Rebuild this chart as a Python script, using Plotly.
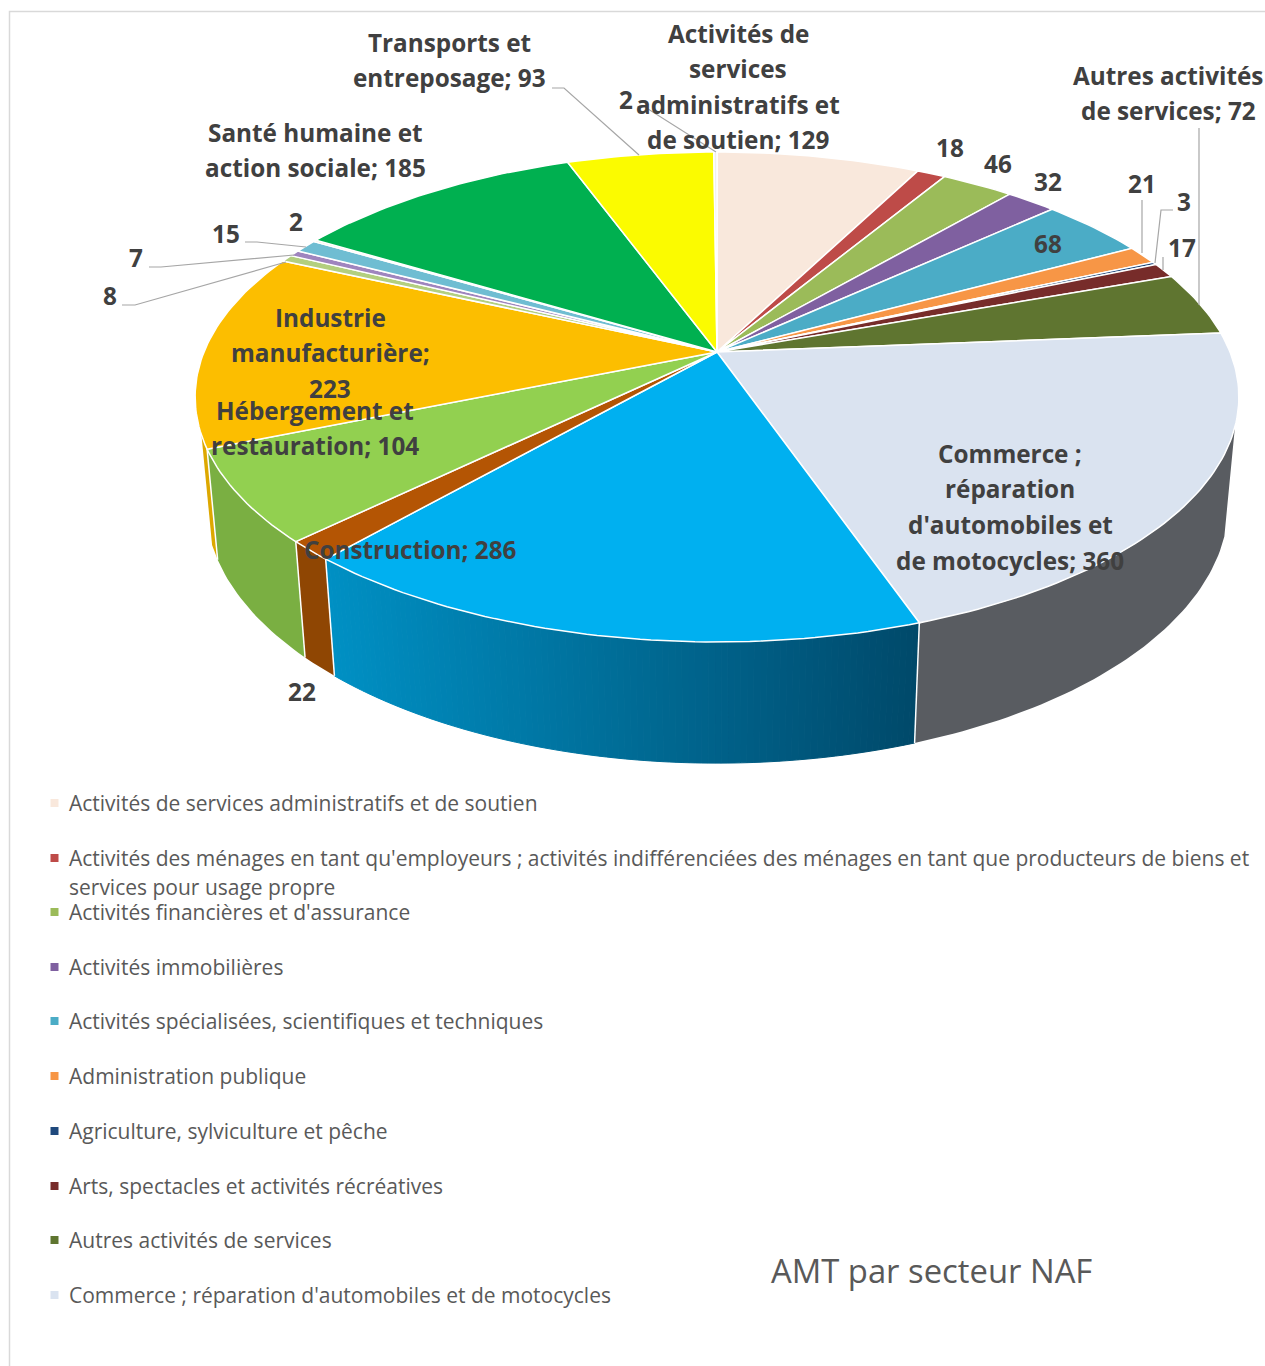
import math
import plotly.graph_objects as go

# ---------- data ----------
sectors = [
    "Activités de services administratifs et de soutien",
    "Activités des ménages en tant qu'employeurs ; activités indifférenciées des ménages en tant que producteurs de biens et services pour usage propre",
    "Activités financières et d'assurance",
    "Activités immobilières",
    "Activités spécialisées, scientifiques et techniques",
    "Administration publique",
    "Agriculture, sylviculture et pêche",
    "Arts, spectacles et activités récréatives",
    "Autres activités de services",
    "Commerce ; réparation d'automobiles et de motocycles",
    "Construction",
    "Enseignement",
    "Hébergement et restauration",
    "Industrie manufacturière",
    "Industries extractives",
    "Information et communication",
    "Production et distribution d'eau",
    "Production et distribution d'électricité",
    "Santé humaine et action sociale",
    "Transports et entreposage",
    "Non renseigné",
]
values = [129, 18, 46, 32, 68, 21, 3, 17, 72, 360, 286, 22, 104, 223, 8, 7, 15, 2, 185, 93, 2]
top_colors = ["#F9E8DC", "#BE4B48", "#9BBB59", "#7F60A0", "#4BACC6", "#F79646", "#1F497D",
              "#772C2A", "#5F7530", "#DAE3F0", "#00B0F0", "#B45504", "#92D050", "#FCBE00",
              "#B3CF7F", "#9F85BE", "#6FBDD2", "#FAC090", "#00B050", "#FBFB00", "#EFEFEF"]
side_colors = {9: ("#595C61", "#595C61"), 10: ("#00496A", "#0090C4"), 11: ("#8F4603", "#8F4603"),
               12: ("#7AAF42", "#7AAF42"), 13: ("#DDA800", "#DDA800")}
legend_count = 10
title_text = "AMT par secteur NAF"

# ---------- perspective of the pie (pixels) ----------
W, H = 1265, 1366
CX, CY = 717, 352
A, B, K = 513.0, 236.7, 0.1837
M, N = 0.0197, -107.0
WALL_FROM = math.acos(-0.30)
WALL_TO = 2 * math.pi - math.acos(-0.33)


def top(t):
    x, y = math.sin(t), math.cos(t)
    w = 1 + K * y
    return CX + A * x / w, CY - B * y / w


def bottom(t):
    x, y = math.sin(t), math.cos(t)
    w = 1 + K * y + M
    return CX + A * x / w, CY - (B * y + N) / w


def mix(c1, c2, f):
    a = [int(c1[i:i + 2], 16) for i in (1, 3, 5)]
    b = [int(c2[i:i + 2], 16) for i in (1, 3, 5)]
    return "rgb(%d,%d,%d)" % tuple(round(p + (q - p) * f) for p, q in zip(a, b))


total = sum(values)
edges = [0.0]
for v in values:
    edges.append(edges[-1] + v / total * 2 * math.pi)

fig = go.Figure()


def poly(xs, ys, fill, line="rgba(0,0,0,0)", lw=0, name=None):
    fig.add_trace(go.Scatter(x=xs, y=ys, mode="lines", fill="toself", fillcolor=fill,
                             line=dict(color=line, width=lw), hoverinfo="text" if name else "skip",
                             text=name, showlegend=False))


def wall(a0, a1, col, lw=0.0):
    n = max(2, int((a1 - a0) / math.radians(1)))
    angs = [a0 + (a1 - a0) * j / n for j in range(n + 1)]
    p = [top(a) for a in angs] + [bottom(a) for a in reversed(angs)]
    p.append(p[0])
    poly([q[0] for q in p], [q[1] for q in p], col, col, lw)


# side wall
x_min, x_max = bottom(edges[11])[0], bottom(edges[10])[0]
for i, (t0, t1) in enumerate(zip(edges[:-1], edges[1:])):
    if i not in side_colors:
        continue
    t0, t1 = max(t0, WALL_FROM), min(t1, WALL_TO)
    c0, c1 = side_colors[i]
    if c0 == c1:
        wall(t0, t1, c0)
    else:
        n = int((t1 - t0) / math.radians(0.6))
        for j in range(n):
            a0 = t0 + (t1 - t0) * j / n
            a1 = t0 + (t1 - t0) * (j + 1) / n
            f = min(1, max(0, (bottom((a0 + a1) / 2)[0] - x_min) / (x_max - x_min)))
            wall(a0, a1, mix(c1, c0, f), 1.0)

# white edges between visible side faces
for e in edges:
    if WALL_FROM < e < WALL_TO:
        p, q = top(e), bottom(e)
        fig.add_trace(go.Scatter(x=[p[0], q[0]], y=[p[1], q[1]], mode="lines",
                                 line=dict(color="#FFFFFF", width=1.5),
                                 hoverinfo="skip", showlegend=False))

# top face
for i, (t0, t1) in enumerate(zip(edges[:-1], edges[1:])):
    n = max(2, int((t1 - t0) / math.radians(1)))
    pts = [(CX, CY)] + [top(t0 + (t1 - t0) * j / n) for j in range(n + 1)] + [(CX, CY)]
    poly([q[0] for q in pts], [q[1] for q in pts], top_colors[i], "#FFFFFF", 1.5,
         "%s; %d" % (sectors[i], values[i]))

# leader lines
leaders = [
    [(552, 88), (564, 88), (639, 155)],
    [(637, 107), (645, 107), (716, 152)],
    [(245, 242), (257, 242), (306, 247)],
    [(149, 267), (161, 267), (294, 255)],
    [(122, 305), (135, 305), (286, 262)],
    [(1142, 200), (1142, 253)],
    [(1173, 210), (1161, 210), (1155, 263)],
    [(1163, 257), (1163, 270)],
    [(1199, 128), (1199, 305)],
]
for ld in leaders:
    fig.add_trace(go.Scatter(x=[p[0] for p in ld], y=[p[1] for p in ld], mode="lines",
                             line=dict(color="#A6A6A6", width=1.2),
                             hoverinfo="skip", showlegend=False))

annotations = []
LABEL_FONT = dict(family="Open Sans", size=24.3, color="#404040", weight=700)


def add_text(x, y, s, font, anchor="center"):
    annotations.append(dict(x=x, y=y, xref="x", yref="y", text=s, showarrow=False, font=font,
                            xanchor=anchor, yanchor="middle", align=anchor))


v = values
labels = [
    (["Activités de", "services", "administratifs et", f"de soutien; {v[0]}"], 738, [33, 68, 104, 139]),
    (["Transports et", f"entreposage; {v[19]}"], 449, [42, 77]),
    (["Santé humaine et", f"action sociale; {v[18]}"], 315, [132, 167]),
    (["Autres activités", f"de services; {v[8]}"], 1168, [75, 110]),
    (["Industrie", "manufacturière;", f"{v[13]}"], 330, [317, 352, 388]),
    (["Hébergement et", f"restauration; {v[12]}"], 315, [410, 445]),
    ([f"Construction; {v[10]}"], 410, [549]),
    (["Commerce ;", "réparation", "d'automobiles et", f"de motocycles; {v[9]}"], 1010, [453, 488, 524, 560]),
    ([f"{v[1]}"], 950, [147]),
    ([f"{v[2]}"], 998, [163]),
    ([f"{v[3]}"], 1048, [181]),
    ([f"{v[4]}"], 1048, [243]),
    ([f"{v[5]}"], 1142, [183]),
    ([f"{v[6]}"], 1184, [201]),
    ([f"{v[7]}"], 1182, [247]),
    ([f"{v[11]}"], 302, [691]),
    ([f"{v[17]}"], 296, [221]),
    ([f"{v[16]}"], 226, [233]),
    ([f"{v[15]}"], 136, [257]),
    ([f"{v[14]}"], 110, [295]),
    ([f"{v[20]}"], 626, [99]),
]
for lines, cx, ys in labels:
    for s, y in zip(lines, ys):
        add_text(cx, y, s, LABEL_FONT)

# legend
LEG_FONT = dict(family="Open Sans", size=21, color="#595959")
leg_y = [803, 858, 912, 967, 1021, 1076, 1131, 1186, 1240, 1295]
fig.add_trace(go.Scatter(x=[54.5] * legend_count, y=leg_y, mode="markers",
                         marker=dict(symbol="square", size=8, color=top_colors[:legend_count], line=dict(width=0)),
                         hoverinfo="skip", showlegend=False))
for i, y in enumerate(leg_y):
    name = sectors[i]
    if i == 1:
        add_text(67, y, name[:name.index(" services")], LEG_FONT, "left")
        add_text(67, 887, name[name.index(" services") + 1:], LEG_FONT, "left")
    else:
        add_text(67, y, name, LEG_FONT, "left")

add_text(931, 1270, title_text, dict(family="Open Sans", size=32.8, color="#595959"))

fig.add_trace(go.Scatter(x=[W, 9.5, 9.5], y=[11.5, 11.5, H], mode="lines",
                         line=dict(color="#D9D9D9", width=1.5), hoverinfo="skip", showlegend=False))

fig.update_layout(
    width=W, height=H, margin=dict(l=0, r=0, t=0, b=0), autosize=False,
    paper_bgcolor="#FFFFFF", plot_bgcolor="#FFFFFF", showlegend=False,
    xaxis=dict(range=[0, W], visible=False, fixedrange=True),
    yaxis=dict(range=[H, 0], visible=False, fixedrange=True),
    annotations=annotations,
)
fig.write_html("out.html", post_script="document.body.style.margin='0';document.body.style.overflow='hidden';",
               config={"displayModeBar": False})
